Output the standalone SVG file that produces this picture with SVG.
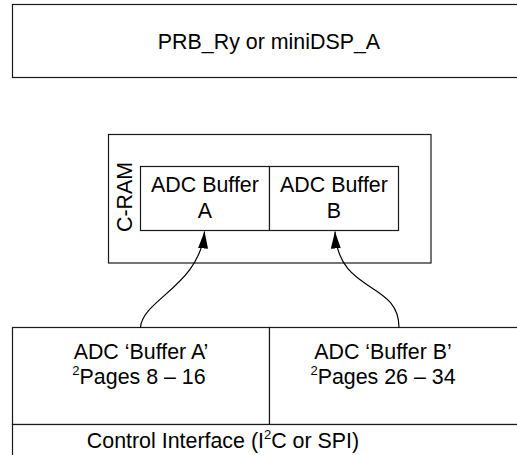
<svg xmlns="http://www.w3.org/2000/svg" width="517" height="455" viewBox="0 0 517 455">
<style>
.box{fill:#fff;stroke:#1a1a1a;stroke-width:1.2}
.t{font-family:"Liberation Sans",Arial,sans-serif;font-size:21.4px;fill:#000;text-anchor:middle}
.sup{font-size:13px}
.conn{fill:none;stroke:#000;stroke-width:1.2}
</style>
<defs>
<marker id="ah" markerUnits="userSpaceOnUse" markerWidth="18" markerHeight="12" refX="17" refY="5" orient="auto">
<path d="M0,0 L17,5 L0,10 Z" fill="#000"/>
</marker>
</defs>
<g id="prb">
<rect class="box" x="12.5" y="4.5" width="520" height="73"/>
<text class="t" x="269" y="49">PRB_Ry or miniDSP_A</text>
</g>
<g id="cram">
<rect class="box" x="108.5" y="134.5" width="322.5" height="128.5"/>
<text class="t" transform="translate(132,197) rotate(-90)">C-RAM</text>
</g>
<g id="bufA">
<rect class="box" x="140.5" y="166.5" width="129" height="64"/>
<text class="t" x="205" y="192">ADC Buffer</text>
<text class="t" x="205" y="218">A</text>
</g>
<g id="bufB">
<rect class="box" x="269.5" y="166.5" width="129" height="64"/>
<text class="t" x="334" y="192">ADC Buffer</text>
<text class="t" x="334" y="218">B</text>
</g>
<g id="adcA">
<rect class="box" x="12.5" y="327.5" width="257" height="97"/>
<text class="t" x="141" y="359">ADC ‘Buffer A’</text>
<text class="t" x="139" y="384"><tspan class="sup" dy="-9">2</tspan><tspan dy="9">Pages 8 – 16</tspan></text>
</g>
<g id="adcB">
<rect class="box" x="269.5" y="327.5" width="260" height="97"/>
<text class="t" x="383" y="359">ADC ‘Buffer B’</text>
<text class="t" x="383" y="384"><tspan class="sup" dy="-9">2</tspan><tspan dy="9">Pages 26 – 34</tspan></text>
</g>
<g id="ctrl">
<rect class="box" x="12.5" y="424.5" width="520" height="40"/>
<text class="t" x="223" y="448">Control Interface (I<tspan class="sup" dy="-9">2</tspan><tspan dy="9">C or SPI)</tspan></text>
</g>
<g id="connectors">
<path class="conn" d="M140.5,327.5 C142,300 200,285 204.5,231.5" marker-end="url(#ah)"/>
<path class="conn" d="M399,327.5 C399,280 338,295 335,231.5" marker-end="url(#ah)"/>
</g>
</svg>
